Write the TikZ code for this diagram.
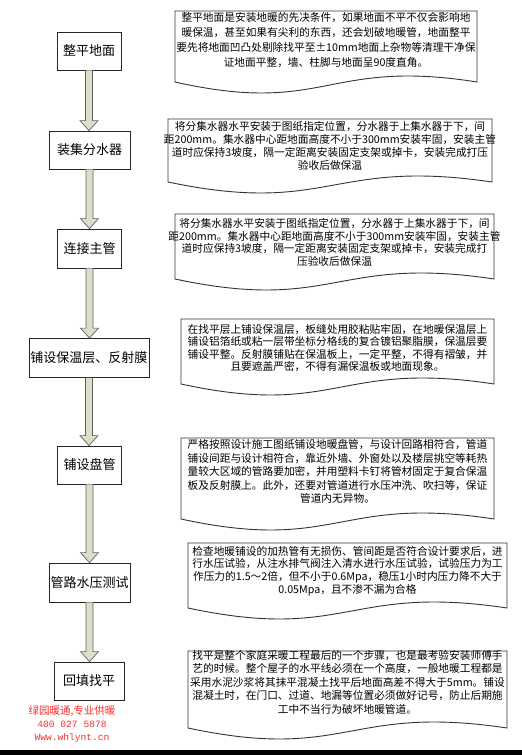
\documentclass[tikz,border=0pt]{standalone}
\usepackage{fontspec}
\setmainfont{Noto Sans CJK SC}
\newfontfamily\brandmono{Liberation Mono}
\usepackage{tikz}
\usetikzlibrary{calc}
\definecolor{shaftfill}{RGB}{219, 222, 203}
\definecolor{shaftline}{RGB}{95, 95, 95}
\definecolor{brandred}{RGB}{250, 45, 45}

% wavy document outline: left x, top y, right x, corner y
\newcommand{\docshape}[4]{%
  \draw[docline] (#1,#2) -- (#3,#2) -- (#3,#4)
    .. controls ({(#1+#3)/2},{#4-24}) and ({(#1+#3)/2},{#4+34}) .. (#1,#4) -- cycle;}

% fat arrow from one step box to the next
\newcommand{\flowarrow}[2]{%
  \draw[flowarr] let \p1=(#1.south), \p2=(#2.north) in
    ({\x1-3.5pt},\y1) -- ({\x1-3.5pt},{\y2+10pt}) -- ({\x1-9pt},{\y2+10pt}) -- (\x1,\y2)
    -- ({\x1+9pt},{\y2+10pt}) -- ({\x1+3.5pt},{\y2+10pt}) -- ({\x1+3.5pt},\y1);}

\begin{document}
\begin{tikzpicture}[x=1pt, y=-1pt,
  stepbox/.style={draw=black!85, line width=0.8pt, minimum height=38pt, inner sep=1pt,
    font=\fontsize{13pt}{15pt}\selectfont},
  docline/.style={draw=black!80, line width=0.9pt},
  doctext/.style={align=center, inner sep=0pt, font=\fontsize{10.7pt}{#1}\selectfont},
  flowarr/.style={draw=shaftline, line width=0.7pt, fill=shaftfill, line join=miter}]
  \useasboundingbox (0,0) rectangle (522,755);

  % steps
  \node[stepbox, minimum width=64pt] (s1) at (89, 51) {整平地面};
  \node[stepbox, minimum width=81pt] (s2) at (89.5, 150) {装集分水器};
  \node[stepbox, minimum width=64pt, minimum height=39pt] (s3) at (89.5, 248.5) {连接主管};
  \node[stepbox, minimum width=120pt, minimum height=39pt] (s4) at (89, 358) {铺设保温层、反射膜};
  \node[stepbox, minimum width=64pt] (s5) at (89.5, 465) {铺设盘管};
  \node[stepbox, minimum width=81pt, minimum height=39pt] (s6) at (89.5, 582.5) {管路水压测试};
  \node[stepbox, minimum width=70pt] (s7) at (89, 681) {回填找平};

  \foreach \a/\b in {s1/s2, s2/s3, s3/s4, s4/s5, s5/s6, s6/s7}
    \flowarrow{\a}{\b};

  % notes
  \docshape{175}{11}{477}{82}
  \node[doctext=15pt] (d1) at (326, 40) {整平地面是安装地暖的先决条件，如果地面不平不仅会影响地\\
    暖保温，甚至如果有尖利的东西，还会划破地暖管，地面整平\\
    要先将地面凹凸处剔除找平至±10mm地面上杂物等清理干净保\\
    证地面平整，墙、柱脚与地面呈90度直角。};

  \docshape{168}{119}{492}{182}
  \node[doctext=12.8pt] (d2) at (330, 146) {将分集水器水平安装于图纸指定位置，分水器于上集水器于下，间\\
    距200mm。集水器中心距地面高度不小于300mm安装牢固，安装主管\\
    道时应保持3坡度，隔一定距离安装固定支架或掉卡，安装完成打压\\
    验收后做保温};

  \docshape{175}{214}{494}{279}
  \node[doctext=12.6pt] (d3) at (334.5, 242.5) {将分集水器水平安装于图纸指定位置，分水器于上集水器于下，间\\
    距200mm。集水器中心距地面高度不小于300mm安装牢固，安装主管\\
    道时应保持3坡度，隔一定距离安装固定支架或掉卡，安装完成打\\
    压验收后做保温};

  \docshape{181}{319}{494}{384}
  \node[doctext=12.4pt] (d4) at (337.5, 348) {在找平层上铺设保温层，板缝处用胶粘贴牢固，在地暖保温层上\\
    铺设铝箔纸或粘一层带坐标分格线的复合镀铝聚脂膜，保温层要\\
    铺设平整。反射膜铺贴在保温板上，一定平整，不得有褶皱，并\\
    且要遮盖严密，不得有漏保温板或地面现象。};

  \docshape{181}{438}{494}{519}
  \node[doctext=13.6pt] (d5) at (337.5, 471.5) {严格按照设计施工图纸铺设地暖盘管，与设计回路相符合，管道\\
    铺设间距与设计相符合，靠近外墙、外窗处以及楼层挑空等耗热\\
    量较大区域的管路要加密，并用塑料卡钉将管材固定于复合保温\\
    板及反射膜上。此外，还要对管道进行水压冲洗、吹扫等，保证\\
    管道内无异物。};

  \docshape{188}{543}{507}{608}
  \node[doctext=12.7pt] (d6) at (347.5, 571) {检查地暖铺设的加热管有无损伤、管间距是否符合设计要求后，进\\
    行水压试验，从注水排气阀注入清水进行水压试验，试验压力为工\\
    作压力的1.5～2倍，但不小于0.6Mpa，稳压1小时内压力降不大于\\
    0.05Mpa，且不渗不漏为合格};

  \docshape{188}{651}{507}{728}
  \node[doctext=13.5pt] (d7) at (347.5, 682) {找平是整个家庭采暖工程最后的一个步骤，也是最考验安装师傅手\\
    艺的时候。整个屋子的水平线必须在一个高度，一般地暖工程都是\\
    采用水泥沙浆将其抹平混凝土找平后地面高差不得大于5mm。铺设\\
    混凝土时，在门口、过道、地漏等位置必须做好记号，防止后期施\\
    工中不当行为破坏地暖管道。};

  % brand
  \node[align=center, inner sep=0pt, text=brandred, font=\fontsize{10.5pt}{13pt}\selectfont]
    (brand) at (72, 724) {绿园暖通,专业供暖\\{\brandmono\fontsize{9.6pt}{13pt}\selectfont 400 027 5878}\\
    {\brandmono\fontsize{9.6pt}{13pt}\selectfont Www.whlynt.cn}};

  \fill[black] (0,750) rectangle (522,755);
\end{tikzpicture}
\end{document}
